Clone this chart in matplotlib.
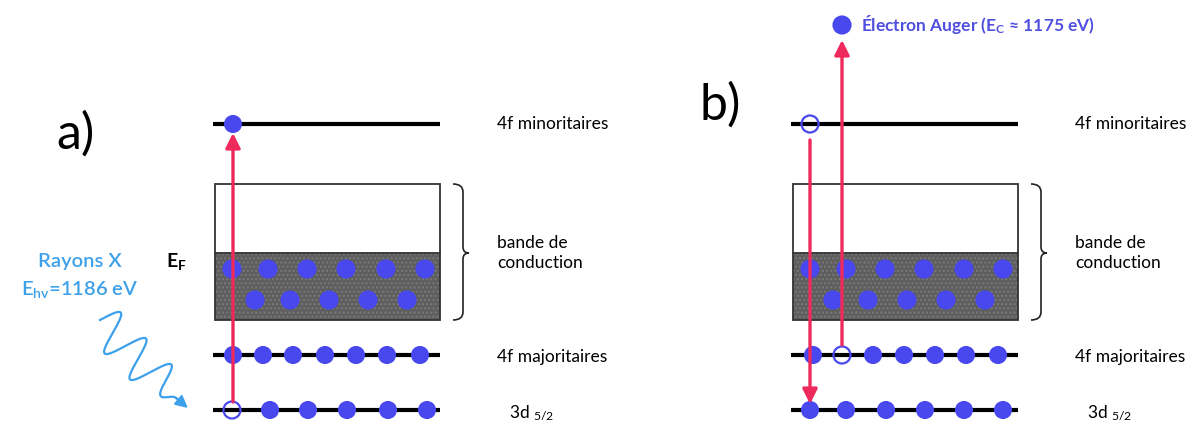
"""Auger process diagram: (a) X-ray absorption, (b) Auger electron emission."""

import numpy as np
import matplotlib.pyplot as plt
from matplotlib.patches import Rectangle, PathPatch
from matplotlib.path import Path

plt.rcParams["font.family"] = ["Lato", "DejaVu Sans"]
plt.rcParams["mathtext.fontset"] = "custom"
plt.rcParams["mathtext.rm"] = "Lato"
plt.rcParams["mathtext.bf"] = "Lato:bold"
plt.rcParams["mathtext.it"] = "Lato:italic"

# ---- data (pixel layout of the diagram) ----
panel_labels = ["a)", "b)"]
panel_x0 = [215, 793]                 # left edge of each level diagram
level_names = ["4f minoritaires", "bande de\nconduction", "4f majoritaires",
               r"3d $\mathregular{_{5/2}}$"]
level_y = [124, 253, 355, 410]

# electron x-offsets from panel left edge
minority_a = [18]
minority_b_holes = [17]
band_row1 = [17, 53, 92, 131, 171, 210]
band_row2 = [40, 75, 114, 153, 192]
major_a = [18, 48, 78, 110, 141, 172, 205]
major_b = [20, 49, 80, 111, 142, 173, 205]
major_b_holes = [49]
core_a = [17, 55, 93, 132, 173, 212]
core_a_holes = [17]
core_b = [17, 53, 93, 132, 171, 210]

RED = "#ee2a5c"
BLUE = "#4848ee"
LIGHT = "#3da0ea"
FS = 12.5

fig = plt.figure(figsize=(12, 4.26), dpi=100)
ax = fig.add_axes([0, 0, 1, 1])
ax.set_xlim(0, 1200)
ax.set_ylim(426, 0)
ax.axis("off")

W = 225
BOX_TOP, BOX_MID, BOX_BOT = 184, 253, 320


def dots(x0, xs, y, holes=(), s=170):
    full = [x for x in xs if x not in holes]
    if full:
        ax.scatter([x0 + x for x in full], [y] * len(full), s=s, color=BLUE,
                   edgecolors="none", zorder=5)
    if holes:
        ax.scatter([x0 + x for x in holes], [y] * len(holes), s=150,
                   facecolors="none", edgecolors=BLUE, linewidths=1.6,
                   zorder=5)


def brace(x, y0, y1, ym):
    verts = [(x, y0), (x + 10, y0), (x + 10, y0 + 8),
             (x + 10, ym - 6), (x + 10, ym), (x + 16, ym),
             (x + 10, ym), (x + 10, ym + 6),
             (x + 10, y1 - 8), (x + 10, y1), (x, y1)]
    codes = [Path.MOVETO, Path.CURVE3, Path.CURVE3,
             Path.LINETO, Path.CURVE3, Path.CURVE3,
             Path.CURVE3, Path.CURVE3,
             Path.LINETO, Path.CURVE3, Path.CURVE3]
    ax.add_patch(PathPatch(Path(verts, codes), fill=False, lw=1.2,
                           edgecolor="#222222"))


def arrow(x, y_from, y_to):
    ax.annotate("", xy=(x, y_to), xytext=(x, y_from),
                arrowprops=dict(arrowstyle="-|>", color=RED, lw=2.4,
                                mutation_scale=22, shrinkA=0, shrinkB=0),
                zorder=6)


for i, x0 in enumerate(panel_x0):
    # levels
    for y in (level_y[0], level_y[2], level_y[3]):
        ax.plot([x0 - 2, x0 + W], [y, y], color="black", lw=3, zorder=2,
                solid_capstyle="butt")
    # conduction band box
    ax.add_patch(Rectangle((x0, BOX_MID), W, BOX_BOT - BOX_MID,
                           facecolor="#5e5e5e", edgecolor="#7a7a7a",
                           hatch="....", lw=0, zorder=1))
    ax.add_patch(Rectangle((x0, BOX_TOP), W, BOX_BOT - BOX_TOP,
                           facecolor="none", edgecolor="#333333", lw=1.3,
                           zorder=2))
    ax.plot([x0, x0 + W], [BOX_MID, BOX_MID], color="#333333", lw=1.3,
            zorder=2)
    dots(x0, band_row1, 269, s=190)
    dots(x0, band_row2, 300, s=190)
    brace(x0 + 238, BOX_TOP, BOX_BOT, BOX_MID)

    # level names
    lx = x0 + 282
    ax.text(lx, level_y[0], level_names[0], fontsize=FS, va="center")
    ax.text(lx, level_y[1], level_names[1], fontsize=FS, va="center",
            linespacing=1.35)
    ax.text(lx, level_y[2] + 2, level_names[2], fontsize=FS, va="center")
    ax.text(lx + 12, level_y[3] + 2, level_names[3], fontsize=FS,
            va="center")

# panel a
xa = panel_x0[0]
dots(xa, minority_a, level_y[0])
dots(xa, major_a, level_y[2])
dots(xa, core_a, level_y[3], holes=core_a_holes)
arrow(xa + 18, 402, 133)
ax.text(76, 134, panel_labels[0], fontsize=36, ha="center", va="center")
ax.text(166, 262, r"$\mathbf{E_F}$", fontsize=14, va="center")
ax.text(80, 262, "Rayons X", fontsize=14.5, fontweight="semibold",
        color=LIGHT, ha="center", va="center")
ax.text(80, 290, r"$\mathregular{E_{hv}}$=1186 eV", fontsize=14.5,
        fontweight="semibold", color=LIGHT, ha="center", va="center")

# X-ray photon wiggle
p0 = np.array([100.0, 320.0])
p1 = np.array([176.0, 398.0])
d = p1 - p0
L = np.hypot(*d)
u = d / L
n = np.array([u[1], -u[0]])
t = np.linspace(0, 1, 300)
wave = 20 * np.sin(2 * np.pi * 3.0 * t) * np.minimum(1, (1 - t) * 5)
pts = p0 + np.outer(t * L, u) + np.outer(wave, n)
ax.plot(pts[:, 0], pts[:, 1], color=LIGHT, lw=1.6)
ax.annotate("", xy=(188, 408), xytext=tuple(pts[-1]),
            arrowprops=dict(arrowstyle="-|>", color=LIGHT, lw=1.6,
                            mutation_scale=18, shrinkA=0, shrinkB=0))

# panel b
xb = panel_x0[1]
dots(xb, [], level_y[0], holes=minority_b_holes)
dots(xb, major_b, level_y[2], holes=major_b_holes)
dots(xb, core_b, level_y[3])
arrow(xb + 17, 140, 404)
arrow(xb + 49, 345, 40)
dots(xb, [49], 25, s=190)
ax.text(720, 105, panel_labels[1], fontsize=36, ha="center", va="center")
ax.text(xb + 68, 25, r"Électron Auger ($\mathbf{E_C}$ ≈ 1175 eV)",
        fontsize=FS, fontweight="bold", color="#5050e0", va="center")

fig.savefig("out.png", dpi=100)
